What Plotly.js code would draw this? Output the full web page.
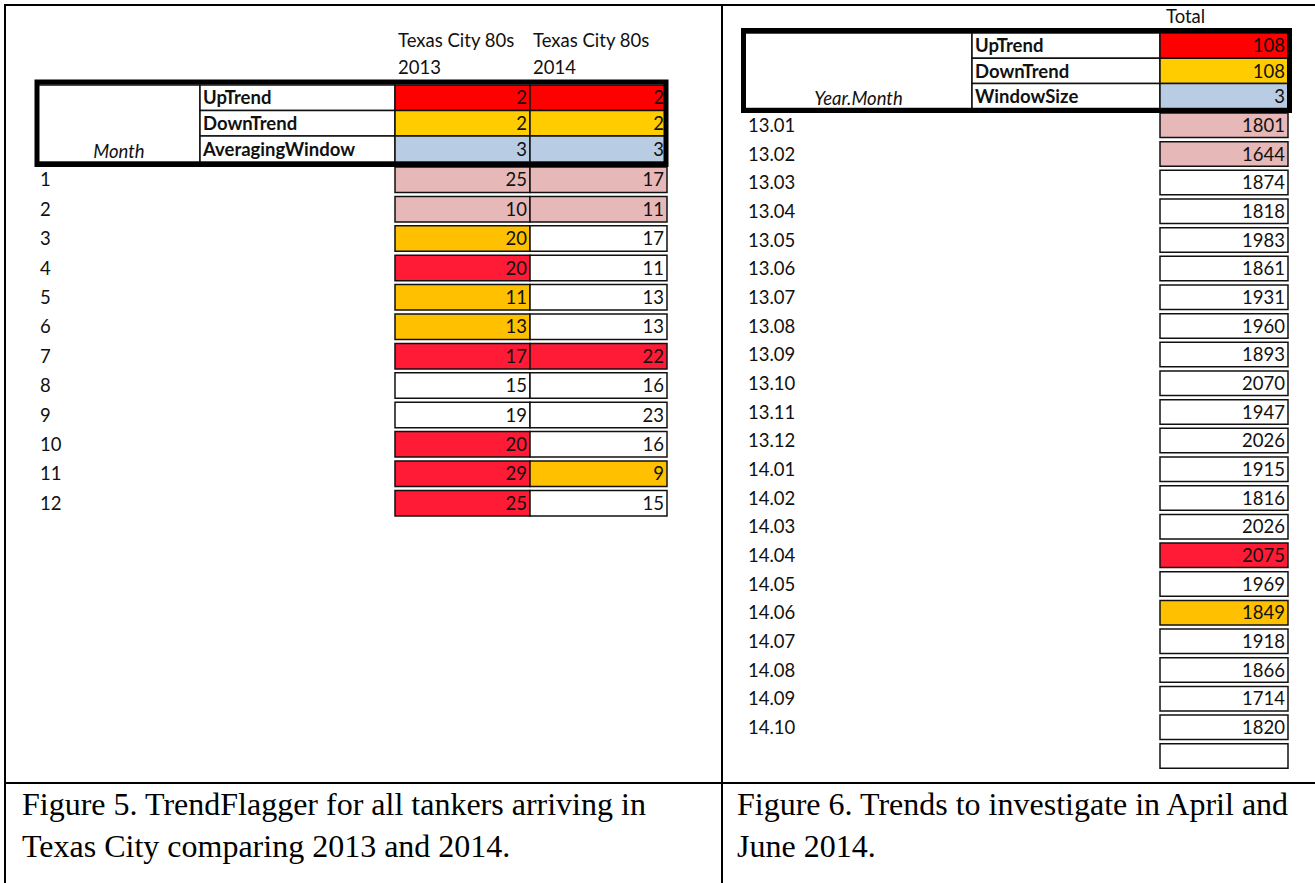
<!DOCTYPE html>
<html>
<head>
<meta charset="utf-8">
<script src="https://cdn.plot.ly/plotly-3.0.1.min.js"></script>
<style>html,body{margin:0;padding:0;background:#fff;}#chart{width:1315px;height:883px;}</style>
</head>
<body>
<div id="chart"></div>
<script>
// ---------- DATA ----------
const months = ['1','2','3','4','5','6','7','8','9','10','11','12'];
const seriesNames = ['Texas City 80s','Texas City 80s'];
const seriesYears = ['2013','2014'];
const paramLabels = ['UpTrend','DownTrend','AveragingWindow'];
const params2013 = [2,2,3];
const params2014 = [2,2,3];
const values2013 = [25,10,20,20,11,13,17,15,19,20,29,25];
const values2014 = [17,11,17,11,13,13,22,16,23,16,9,15];
const flags2013 = ['win','win','down','up','down','down','up','none','none','up','up','up'];
const flags2014 = ['win','win','none','none','none','none','up','none','none','none','down','none'];

const yearMonths = ['13.01','13.02','13.03','13.04','13.05','13.06','13.07','13.08','13.09','13.10','13.11','13.12',
                    '14.01','14.02','14.03','14.04','14.05','14.06','14.07','14.08','14.09','14.10'];
const totalName = 'Total';
const paramLabels2 = ['UpTrend','DownTrend','WindowSize'];
const paramsTotal = [108,108,3];
const totals = [1801,1644,1874,1818,1983,1861,1931,1960,1893,2070,1947,2026,
                1915,1816,2026,2075,1969,1849,1918,1866,1714,1820];
const totalFlags = ['win','win','none','none','none','none','none','none','none','none','none','none',
                    'none','none','none','up','none','down','none','none','none','none'];

const captionLeft = ['Figure 5. TrendFlagger for all tankers arriving in','Texas City comparing 2013 and 2014.'];
const captionRight = ['Figure 6. Trends to investigate in April and','June 2014.'];

// ---------- STYLE ----------
const flagColor = {win:'#E6B8B7', up:'#FF1A35', down:'#FFC000', none:'#FFFFFF'};
const paramColor = ['#FF0000','#FFCC00','#B8CCE4'];
const FONT = 'Lato, "Open Sans", sans-serif';
const FS = 18.5;
const INK = '#111111';
const BORDER = '#111111';
const TY = 2; // text baseline nudge

// layout geometry (pixel units on the axes)
const L = {top0:167, pitch:29.4, h:25.5, labelX:40, cols:[[395,530],[530,667]],
           hdrRows:[[85,110.5],[110.5,136],[136,162]], mergeX:[38,200], labX:[200,395]};
const R = {top0:113, pitch:28.67, h:24.5, labelX:748, col:[1160,1288],
           hdrRows:[[33,58.3],[58.3,83.6],[83.6,108.5]], mergeX:[745,972], labX:[972,1160]};

const traces = [];
const rowsC = (g, n) => Array.from({length:n}, (_, i) => g.top0 + i*g.pitch + g.h/2);

function cellBars(xr, ys, heights, colors){
  traces.push({type:'bar', orientation:'h', y:ys, x:ys.map(()=>xr[1]-xr[0]), base:xr[0],
    width:heights, marker:{color:colors, line:{color:BORDER, width:1.5}},
    hoverinfo:'skip', showlegend:false, cliponaxis:false});
}
function texts(xs, ys, txt, pos, font){
  traces.push({type:'scatter', mode:'text', x:xs, y:ys.map(v=>v+TY), text:txt, textposition:pos,
    textfont:Object.assign({family:FONT, size:FS, color:INK}, font||{}),
    hoverinfo:'skip', showlegend:false, cliponaxis:false});
}

// ----- LEFT TABLE -----
const lY = rowsC(L, months.length);
[ [values2013, flags2013], [values2014, flags2014] ].forEach(([vals, flags], c) => {
  cellBars(L.cols[c], lY, lY.map(()=>L.h), flags.map(f=>flagColor[f]));
  texts(lY.map(()=>L.cols[c][1]-3), lY, vals.map(String), 'middle left');
});
texts(lY.map(()=>L.labelX), lY, months, 'middle right');

// header
const lhY = L.hdrRows.map(r=>(r[0]+r[1])/2), lhH = L.hdrRows.map(r=>r[1]-r[0]);
cellBars(L.mergeX, [(L.hdrRows[0][0]+L.hdrRows[2][1])/2], [L.hdrRows[2][1]-L.hdrRows[0][0]], ['#FFFFFF']);
cellBars(L.labX, lhY, lhH, lhY.map(()=>'#FFFFFF'));
[params2013, params2014].forEach((p, c) => {
  cellBars(L.cols[c], lhY, lhH, paramColor);
  texts(lhY.map(()=>L.cols[c][1]-3), lhY, p.map(String), 'middle left');
});
texts(lhY.map(()=>L.labX[0]+3), lhY, paramLabels, 'middle right', {weight:700});
texts([(L.mergeX[0]+L.mergeX[1])/2], [lhY[2]+2], ['Month'], 'middle center', {style:'italic'});
texts(L.cols.map(c=>c[0]+3), [40,40], seriesNames, 'middle right');
texts(L.cols.map(c=>c[0]+3), [67,67], seriesYears, 'middle right');

// ----- RIGHT TABLE -----
const rY = rowsC(R, yearMonths.length + 1);
const rYd = rY.slice(0, yearMonths.length);
cellBars(R.col, rY, rY.map(()=>R.h), totalFlags.map(f=>flagColor[f]).concat(['#FFFFFF']));
texts(rYd.map(()=>R.col[1]-3), rYd, totals.map(String), 'middle left');
texts(rYd.map(()=>R.labelX), rYd, yearMonths, 'middle right');

const rhY = R.hdrRows.map(r=>(r[0]+r[1])/2), rhH = R.hdrRows.map(r=>r[1]-r[0]);
cellBars(R.mergeX, [(R.hdrRows[0][0]+R.hdrRows[2][1])/2], [R.hdrRows[2][1]-R.hdrRows[0][0]], ['#FFFFFF']);
cellBars(R.labX, rhY, rhH, rhY.map(()=>'#FFFFFF'));
cellBars(R.col, rhY, rhH, paramColor);
texts(rhY.map(()=>R.col[1]-3), rhY, paramsTotal.map(String), 'middle left');
texts(rhY.map(()=>R.labX[0]+3), rhY, paramLabels2, 'middle right', {weight:700});
texts([(R.mergeX[0]+R.mergeX[1])/2], [rhY[2]+2], ['Year.Month'], 'middle center', {style:'italic'});
texts([1166], [16], [totalName], 'middle right');

// ----- FRAME / BORDERS -----
const blk = {color:'#000', width:2};
const shapes = [
  {type:'line', xref:'x', yref:'y', x0:5, x1:1315, y0:5, y1:5, line:blk},
  {type:'line', xref:'x', yref:'y', x0:5, x1:5, y0:4, y1:883, line:blk},
  {type:'line', xref:'x', yref:'y', x0:722, x1:722, y0:5, y1:883, line:blk},
  {type:'line', xref:'x', yref:'y', x0:5, x1:1315, y0:783, y1:783, line:blk},
  {type:'rect', xref:'x', yref:'y', x0:37, x1:666, y0:82, y1:164.5, line:{color:'#000', width:5}},
  {type:'rect', xref:'x', yref:'y', x0:743.5, x1:1289.5, y0:30.5, y1:110.5, line:{color:'#000', width:5}}
];

const capFont = {family:'"Liberation Serif", "Times New Roman", serif', size:32, color:'#000'};
const annotations = [];
[[captionLeft, 20], [captionRight, 735]].forEach(([lines, x]) => {
  lines.forEach((t, i) => annotations.push({xref:'x', yref:'y', x:x, y:804 + i*42, text:t,
    showarrow:false, xanchor:'left', yanchor:'middle', font:capFont}));
});

const layout = {
  width:1315, height:883, margin:{l:0, r:0, t:0, b:0},
  paper_bgcolor:'#fff', plot_bgcolor:'#fff', barmode:'overlay', showlegend:false,
  xaxis:{range:[0,1315], visible:false, fixedrange:true},
  yaxis:{range:[883,0], visible:false, fixedrange:true},
  shapes:shapes, annotations:annotations
};
Plotly.newPlot('chart', traces, layout, {staticPlot:true, displayModeBar:false});
</script>
</body>
</html>
